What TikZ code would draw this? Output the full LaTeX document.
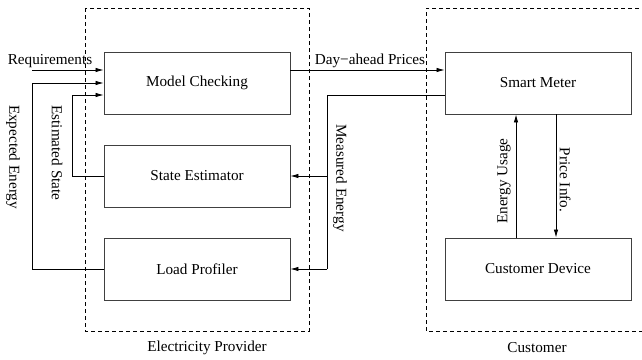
\documentclass[tikz,border=0pt]{standalone}
\usepackage{fontspec}
\setmainfont{Liberation Serif}
\usetikzlibrary{calc,arrows.meta}
\begin{document}
\begin{tikzpicture}[x=1pt,y=-1pt,
  block/.style={draw=black!75,line width=0.9pt,minimum width=186pt,minimum height=62pt,inner sep=0pt,font=\fontsize{15.2}{17}\selectfont},
  region/.style={draw,dashed,dash pattern=on 4pt off 3pt,line width=0.8pt},
  flow/.style={draw,line width=0.8pt,-{Latex[length=8pt,width=4.5pt]}},
  wire/.style={draw,line width=0.8pt},
  lbl/.style={font=\fontsize{15.2}{17}\selectfont,inner sep=0pt}]
\useasboundingbox (0,0) rectangle (642,359);

% grouping regions
\draw[region] (85,8) rectangle (309,331);
\draw[region] (646,8) -- (426,8) -- (426,331) -- (646,331);
\node[lbl] (prov) at (207,348) {Electricity Provider};
\node[lbl] (cust) at (537,348) {Customer};

% blocks
\node[block] (mc) at (197,83) {Model Checking};
\node[block] (se) at (197,176) {State Estimator};
\node[block] (lp) at (197,269) {Load Profiler};
\node[block] (sm) at (538,83) {Smart Meter};
\node[block] (cd) at (538,269) {Customer Device};

% inputs to model checking
\coordinate (req) at (32,70);
\path[flow] (req) -- ($(mc.west)+(0,-13)$);
\node[lbl,anchor=base] (reqlbl) at (50,64) {Requirements};

\path[flow] (lp.west) -| (32,83) -- (mc.west);
\node[lbl,rotate=-90] (explbl) at (13,157) {Expected Energy};

\path[flow] (se.west) -| (72,95) -- ($(mc.west)+(0,12)$);
\node[lbl,rotate=-90] (estlbl) at (57,153) {Estimated State};

% prices to smart meter
\path[flow] ($(mc.east)+(0,-13)$) -- ($(sm.west)+(0,-13)$);
\node[lbl,anchor=base] (daylbl) at (370,64) {Day−ahead Prices};

% measured energy back to provider
\coordinate (mbus) at (327,95);
\path[wire] ($(sm.west)+(0,12)$) -- (mbus) -- (327,269);
\path[flow] (327,176) -- (se.east);
\path[flow] (327,269) -- (lp.east);
\node[lbl,rotate=-90] (measlbl) at (340,178) {Measured Energy};

% customer side
\path[flow] ($(cd.north)+(-22,0)$) -- ($(sm.south)+(-22,0)$);
\node[lbl,rotate=90] (uselbl) at (504,181) {Energy Usage};
\path[flow] ($(sm.south)+(18,0)$) -- ($(cd.north)+(18,0)$);
\node[lbl,rotate=-90] (pricelbl) at (565,180) {Price Info.};
\end{tikzpicture}
\end{document}
